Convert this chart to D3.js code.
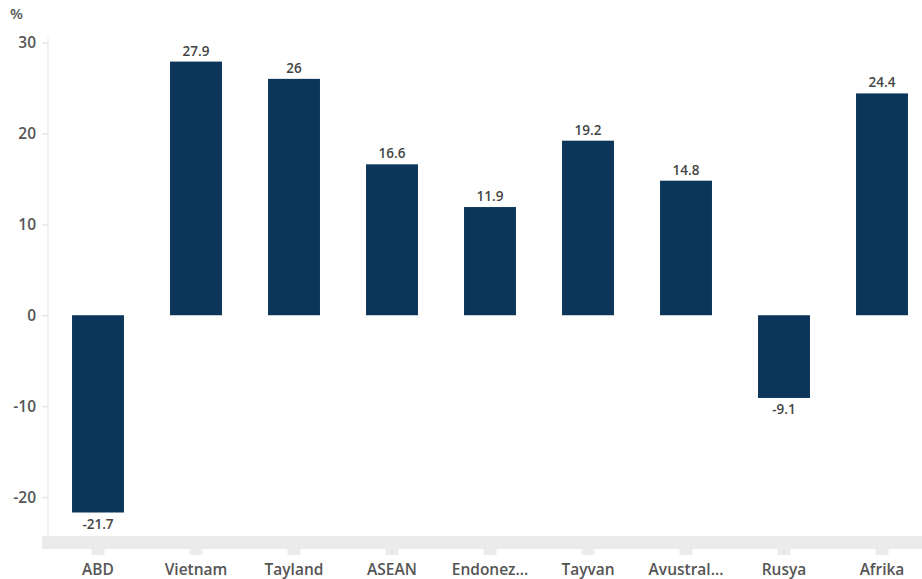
<!DOCTYPE html>
<html><head><meta charset="utf-8">
<script src="https://cdn.jsdelivr.net/npm/d3@7"></script>
<style>
html,body{margin:0;padding:0;background:#fff;}
svg{display:block;font-family:"Open Sans",sans-serif;}
</style></head>
<body><svg id="c" width="922" height="579"></svg>
<script>
const categories = ["ABD","Vietnam","Tayland","ASEAN","Endonez...","Tayvan","Avustral...","Rusya","Afrika"];
const values = [-21.7,27.9,26,16.6,11.9,19.2,14.8,-9.1,24.4];
const valueLabels = ["-21.7","27.9","26","16.6","11.9","19.2","14.8","-9.1","24.4"];
const yTicks = [-20,-10,0,10,20,30];

const svg = d3.select("#c");
const y = d3.scaleLinear().domain([-25,30]).range([542.5,42.5]);
const x = d3.scaleBand().domain(categories).range([49,931]).paddingInner(0.47).paddingOuter(0.235);

// y axis line
svg.append("line").attr("x1",48).attr("x2",48).attr("y1",38).attr("y2",536)
  .attr("stroke","#ececec").attr("stroke-width",1.5);
// y ticks
const yg = svg.append("g").attr("transform","translate(48,0)")
  .call(d3.axisLeft(y).tickValues(yTicks).tickFormat(d=>String(d)).tickSize(6).tickPadding(6));
yg.select(".domain").remove();
yg.selectAll(".tick line").attr("stroke","#e6e6e6").attr("stroke-width",1.5);
yg.selectAll(".tick text").attr("fill","#555").attr("font-size","15.5px").attr("font-weight","600")
  .attr("font-family","'Open Sans',sans-serif");

svg.append("text").attr("x",10).attr("y",19).text("%")
  .attr("fill","#555").attr("font-size","15px").attr("font-weight","600").attr("font-family","'Open Sans',sans-serif");

// x axis band
svg.append("rect").attr("x",42).attr("y",y(-25)-6.5).attr("width",900).attr("height",13).attr("fill","#ebebeb");
const xg = svg.append("g").attr("transform",`translate(0,${y(-25)+6.5})`)
  .call(d3.axisBottom(x).tickSize(6).tickPadding(6));
xg.select(".domain").remove();
xg.selectAll(".tick line").attr("stroke","#ebebeb").attr("stroke-width",13);
xg.selectAll(".tick text").attr("fill","#555").attr("font-size","15.5px").attr("font-weight","600")
  .attr("font-family","'Open Sans',sans-serif").attr("dy","0.9em");

// bars
svg.append("g").selectAll("rect").data(values).join("rect")
  .attr("x",(d,i)=>x(categories[i]))
  .attr("width",x.bandwidth())
  .attr("y",d=>y(Math.max(0,d)))
  .attr("height",d=>Math.abs(y(d)-y(0)))
  .attr("fill","#0b365a");

// value labels
svg.append("g").selectAll("text").data(values).join("text")
  .attr("x",(d,i)=>x(categories[i])+x.bandwidth()/2)
  .attr("y",d=>d>=0 ? y(d)-6 : y(d)+16)
  .attr("text-anchor","middle")
  .attr("fill","#444").attr("font-size","13.5px").attr("font-weight","600")
  .attr("font-family","'Open Sans',sans-serif")
  .text((d,i)=>valueLabels[i]);
</script></body></html>
